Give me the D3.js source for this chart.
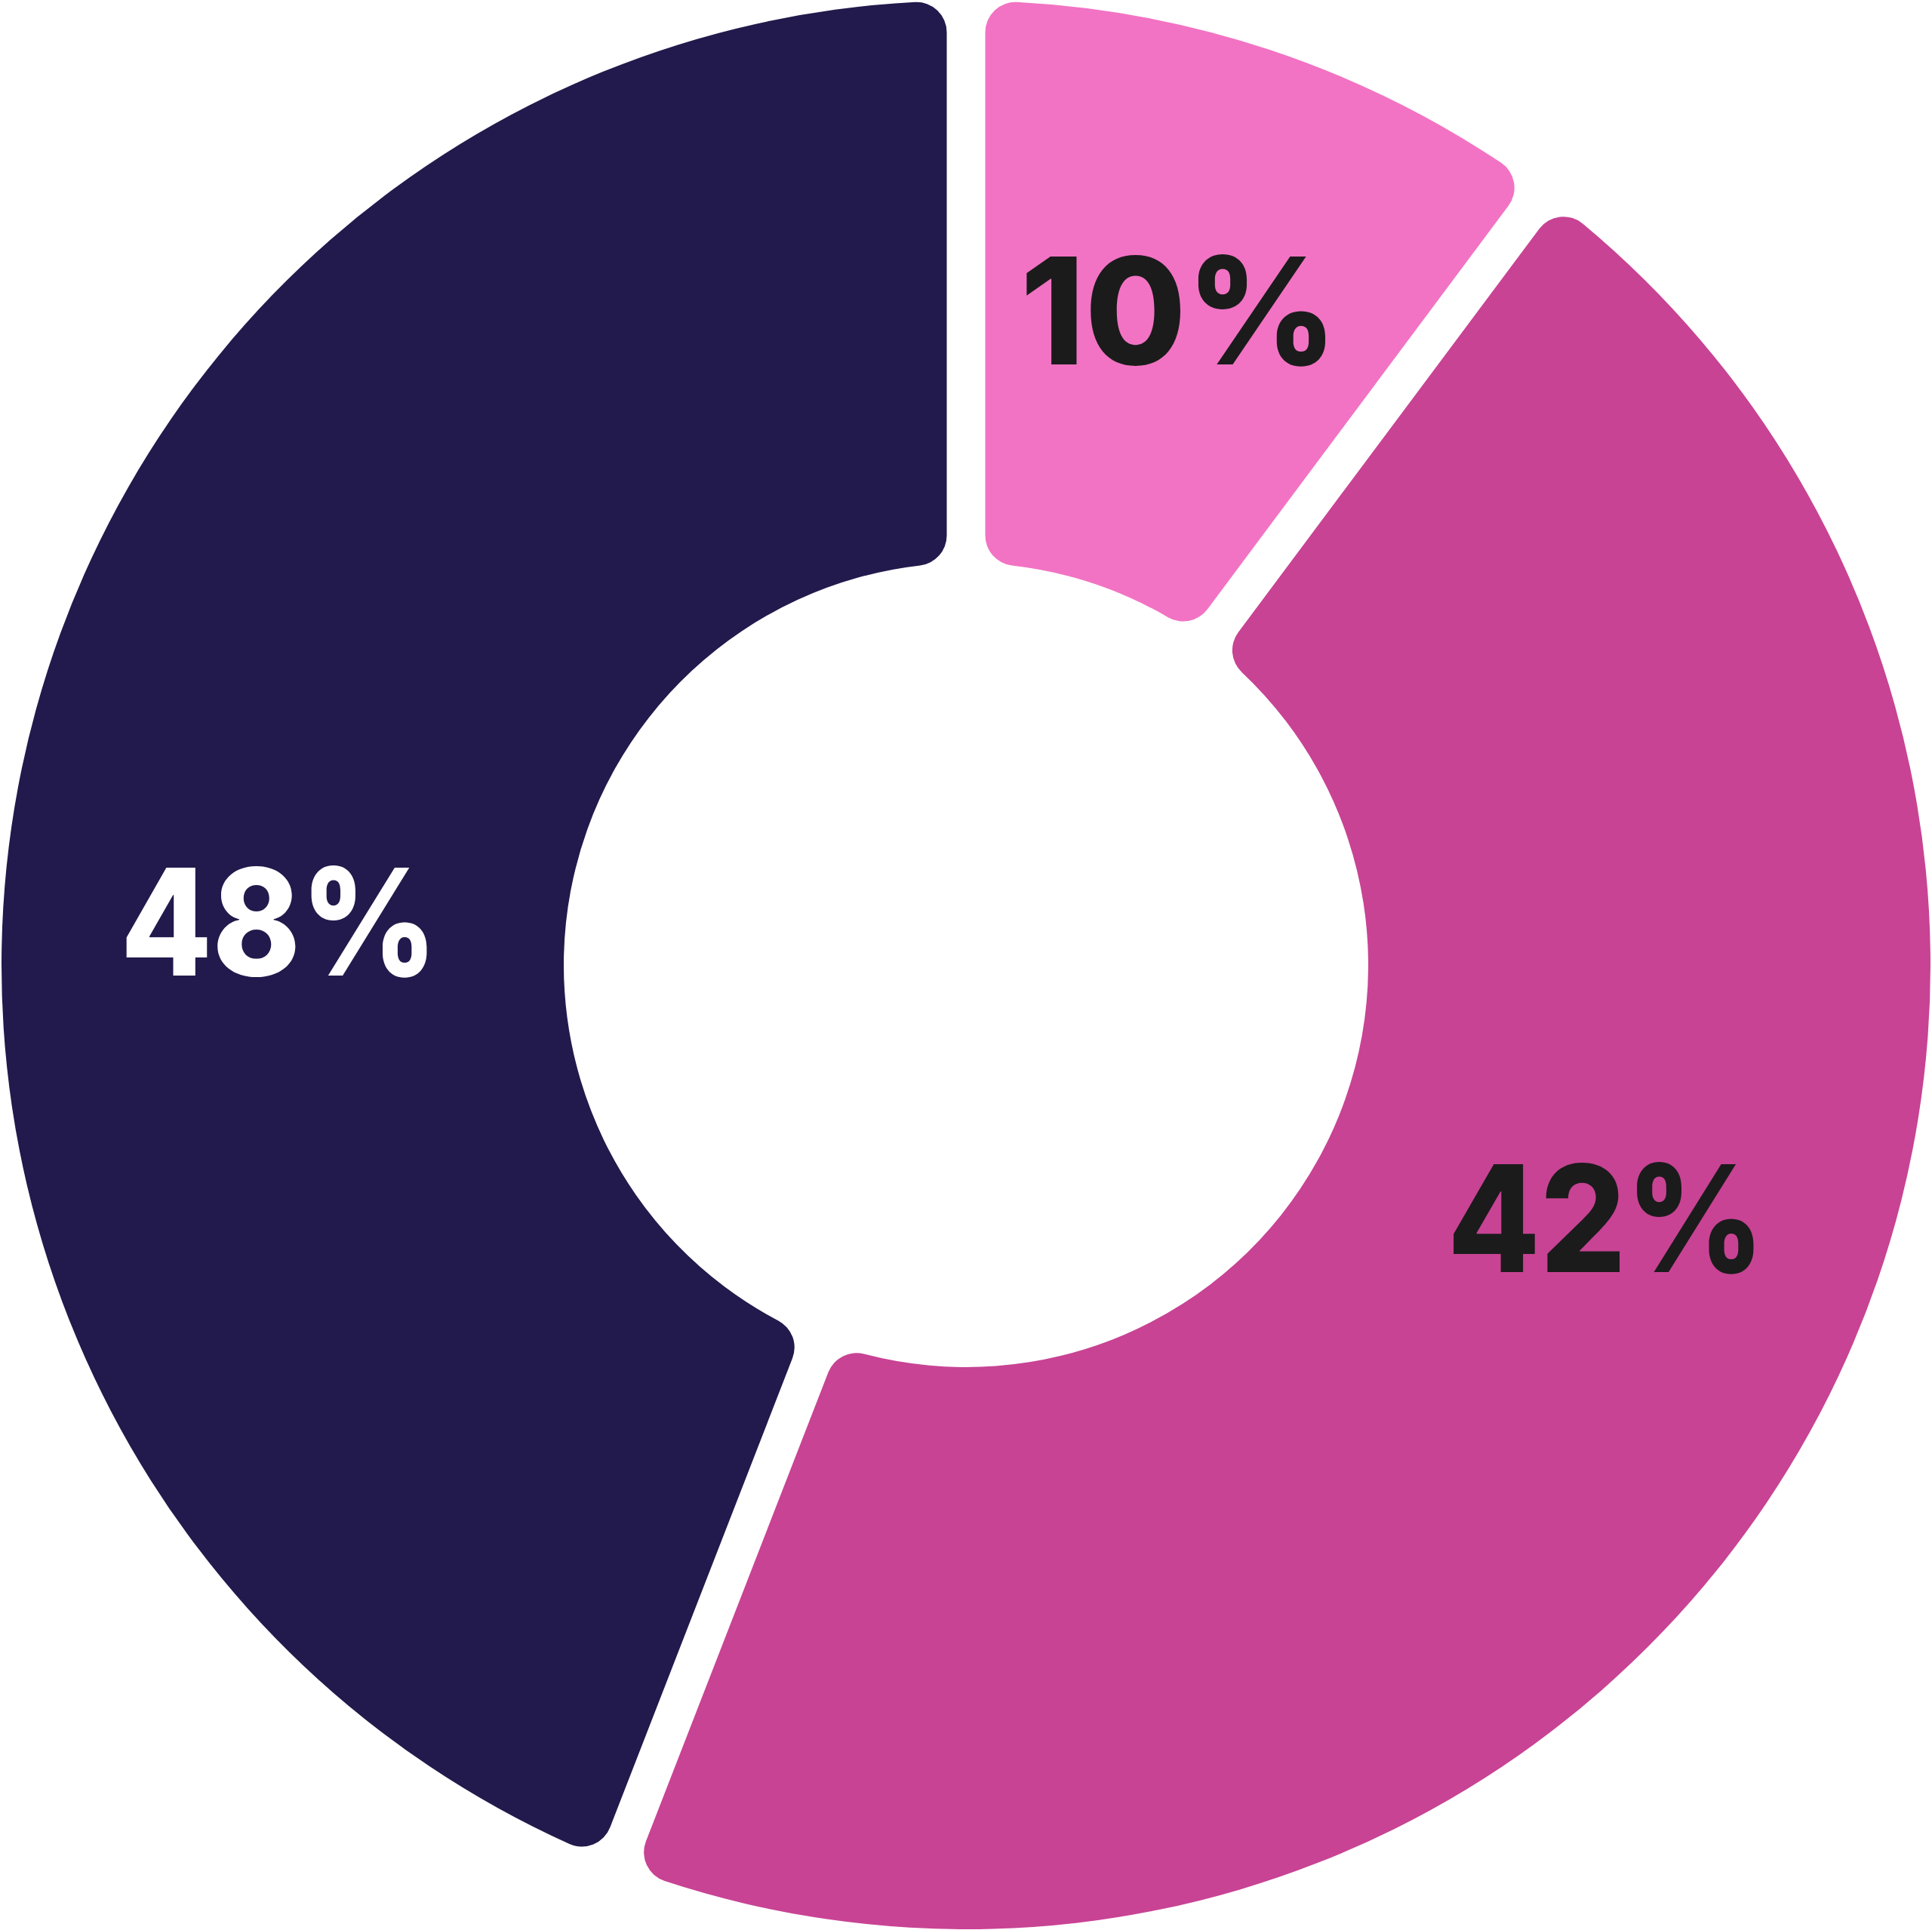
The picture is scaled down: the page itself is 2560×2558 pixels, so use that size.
<!DOCTYPE html>
<html><head><meta charset="utf-8">
<script src="https://cdn.jsdelivr.net/npm/d3@7"></script>
<style>html,body{margin:0;padding:0;background:#fff;} svg{display:block;}</style>
</head><body>
<svg id="chart" width="2560" height="2558"></svg>
<script>
// ---- data ----
const categories = ["Dark", "Pink", "Magenta"];
const percentLabels = [48, 10, 42];          // percentages printed on the chart
const drawnShares = [44.1, 10.2, 45.7];      // arc shares as drawn in the picture
const colors = ["#221a4c", "#f273c3", "#c84394"];
const labelColors = ["#ffffff", "#1b1b1b", "#1b1b1b"];

// ---- layout ----
const W = 2560, H = 2558, cx = 1280, cy = 1279, outerR = 1278, innerR = 533;
const svg = d3.select("#chart").attr("width", W).attr("height", H);
const g = svg.append("g").attr("transform", `translate(${cx},${cy})`);

const data = categories.map((c, i) => ({
  cat: c, share: drawnShares[i], pct: percentLabels[i], color: colors[i], lc: labelColors[i]
}));

const tau = 2 * Math.PI;
const darkAngle = drawnShares[0] / d3.sum(drawnShares) * tau;
const pie = d3.pie().sort(null).value(d => d.share)
  .startAngle(-darkAngle).endAngle(tau - darkAngle);

const arc = d3.arc()
  .innerRadius(innerR).outerRadius(outerR)
  .cornerRadius(40).padAngle(0.04).padRadius(1275);

g.selectAll("path.slice").data(pie(data)).join("path")
  .attr("class", "slice")
  .attr("d", arc)
  .attr("fill", d => d.data.color);

// labels positioned at centroids of the printed percentages
const nomDark = percentLabels[0] / d3.sum(percentLabels) * tau;
const pieNom = d3.pie().sort(null).value(d => d.pct)
  .startAngle(-nomDark).endAngle(tau - nomDark);
const labelArc = d3.arc().innerRadius(912).outerRadius(912);

const fontSize = 197, capH = 143, targetW = 420;
g.selectAll("text.lbl").data(pieNom(data)).join("text")
  .attr("class", "lbl")
  .attr("text-anchor", "middle")
  .attr("font-family", "Inter, 'Noto Sans', sans-serif")
  .attr("font-weight", 800)
  .attr("font-size", fontSize)
  .attr("fill", d => d.data.lc)
  .text(d => `${d.data.pct}%`)
  .each(function (d) {
    const [x, y] = labelArc.centroid(d);
    const w = this.getComputedTextLength();
    const sx = w > 0 ? targetW / w : 1;
    d3.select(this).attr("transform", `translate(${x},${y + capH / 2}) scale(${sx},1)`);
  });
</script>
</body></html>
